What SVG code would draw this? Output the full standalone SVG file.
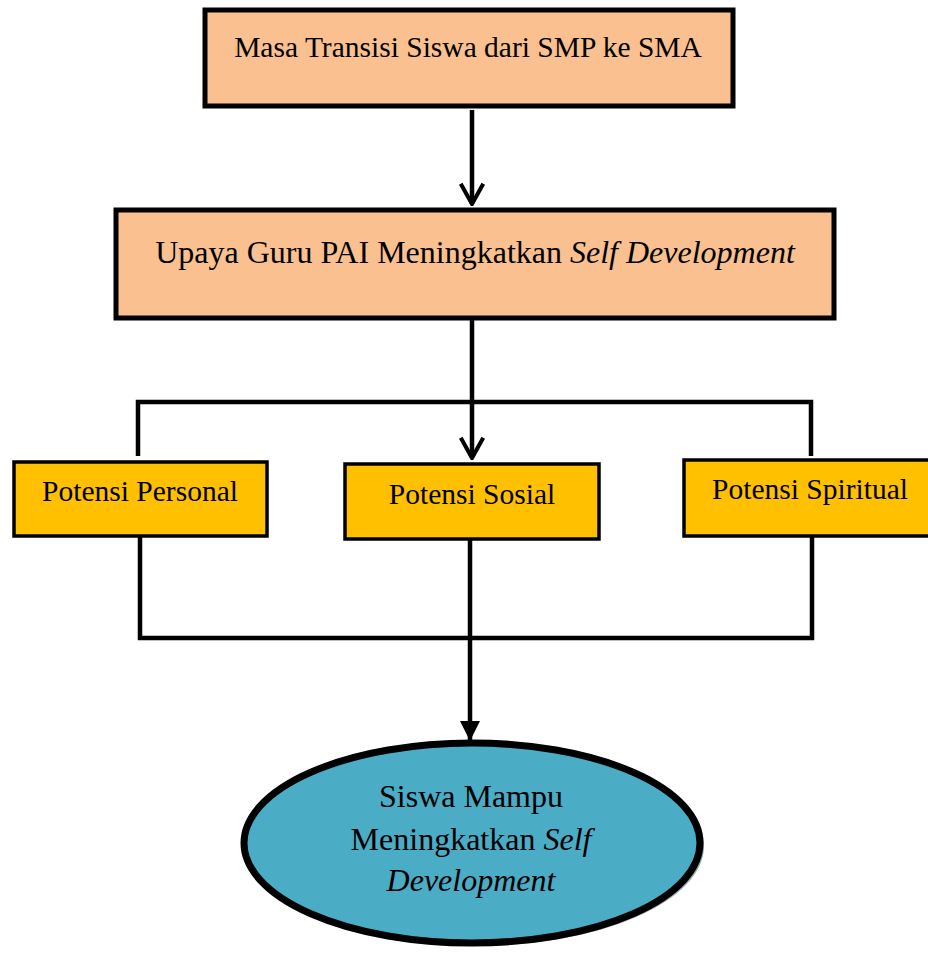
<svg xmlns="http://www.w3.org/2000/svg" width="928" height="957" viewBox="0 0 928 957">
<style>
.t{font-family:"Liberation Serif","Times New Roman",serif;fill:#000;text-anchor:middle}
.peach{fill:#FAC090;stroke:#000;stroke-width:5}
.gold{fill:#FFC000;stroke:#000;stroke-width:3.5}
.ln{fill:none;stroke:#000;stroke-width:4.5}
</style>
<defs>
<marker id="open" viewBox="0 0 12 12" refX="11" refY="6" markerWidth="6" markerHeight="6" orient="auto" markerUnits="strokeWidth">
<path d="M2,1 L11,6 L2,11" fill="none" stroke="#000" stroke-width="1.8"/>
</marker>
<marker id="solid" viewBox="0 0 10 10" refX="10" refY="5" markerWidth="4.5" markerHeight="4.5" orient="auto" markerUnits="strokeWidth">
<path d="M0,0 L10,5 L0,10 Z" fill="#000"/>
</marker>
</defs>
<g id="connectors">
<line class="ln" x1="472" y1="110" x2="472" y2="204" marker-end="url(#open)"/>
<line class="ln" x1="472" y1="320" x2="472" y2="458" marker-end="url(#open)"/>
<polyline class="ln" points="138,456 138,402 811,402 811,456"/>
<polyline class="ln" points="140,537 140,638 812,638 812,537"/>
<line class="ln" x1="470" y1="540" x2="470" y2="741" marker-end="url(#solid)"/>
</g>
<g id="node-masa">
<rect class="peach" x="205" y="10" width="528" height="96"/>
<text class="t" x="468" y="57" font-size="29.5">Masa Transisi Siswa dari SMP ke SMA</text>
</g>
<g id="node-upaya">
<rect class="peach" x="116" y="210" width="718" height="108"/>
<text class="t" x="475" y="263" font-size="32">Upaya Guru PAI Meningkatkan <tspan font-style="italic">Self Development</tspan></text>
</g>
<g id="node-personal">
<rect class="gold" x="14" y="462" width="253" height="74"/>
<text class="t" x="140" y="501" font-size="29.5">Potensi Personal</text>
</g>
<g id="node-sosial">
<rect class="gold" x="345" y="464" width="254" height="75"/>
<text class="t" x="472" y="504" font-size="29.5">Potensi Sosial</text>
</g>
<g id="node-spiritual">
<rect class="gold" x="684" y="460" width="250" height="76"/>
<text class="t" x="810" y="499" font-size="29.5">Potensi Spiritual</text>
</g>
<g id="node-siswa">
<ellipse cx="475" cy="846" rx="229" ry="100" fill="#8FA9B3"/>
<ellipse cx="472" cy="843" rx="228" ry="100" fill="#4BACC6" stroke="#000" stroke-width="7"/>
<text class="t" x="471" y="807" font-size="32">Siswa Mampu</text>
<text class="t" x="471" y="850" font-size="32">Meningkatkan <tspan font-style="italic">Self</tspan></text>
<text class="t" x="471" y="891" font-size="32" font-style="italic">Development</text>
</g>
</svg>
